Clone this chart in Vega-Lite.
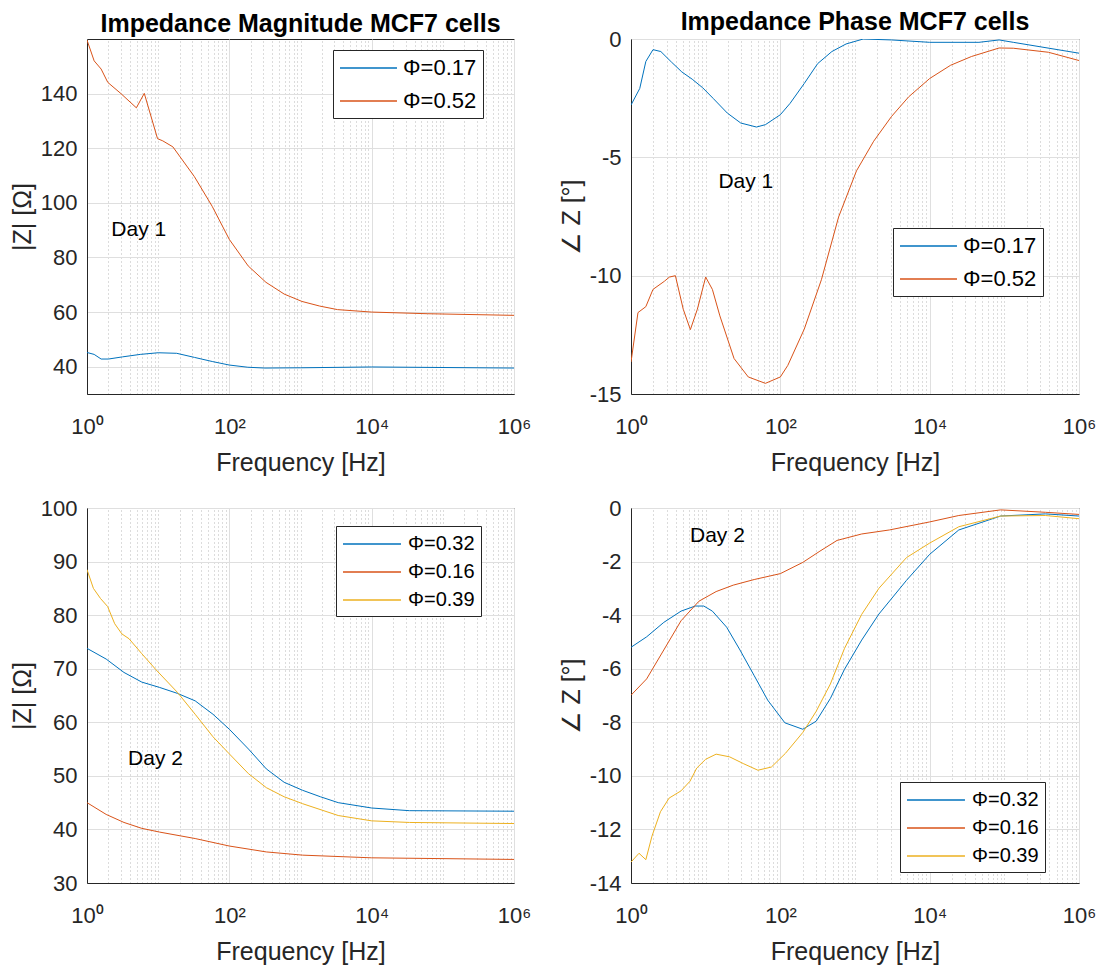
{
  "$schema": "https://vega.github.io/schema/vega-lite/v6.json",
  "background": "white",
  "padding": {"left": 9, "top": 9, "right": 5, "bottom": 5},
  "resolve": {"scale": {"color": "independent"}, "legend": {"color": "independent"}},
  "config": {
    "font": "Liberation Sans",
    "view": {"stroke": "#262626", "strokeWidth": 1},
    "axis": {"domainColor": "#262626", "labelColor": "#262626", "titleColor": "#262626", "labelFont": "Liberation Sans", "titleFont": "Liberation Sans", "titleFontWeight": "normal", "labelFontSize": 22, "titleFontSize": 25, "ticks": false, "gridColor": "#dfdfdf", "labelOverlap": false, "labelFlush": false},
    "legend": {"labelFont": "Liberation Sans", "labelColor": "#000000", "strokeColor": "#262626", "fillColor": "white", "symbolStrokeWidth": 1.5, "symbolSize": 484, "padding": 6},
    "title": {"font": "Liberation Sans", "fontSize": 25, "fontWeight": "bold", "color": "#000000", "offset": 2, "frame": "group"}
  },
  "datasets": {
    "m1": [
      {"s":"Φ=0.17","f":1,"v":45.2},{"s":"Φ=0.17","f":1.26,"v":44.5},{"s":"Φ=0.17","f":1.58,"v":42.8},{"s":"Φ=0.17","f":2,"v":42.8},{"s":"Φ=0.17","f":3.16,"v":43.6},{"s":"Φ=0.17","f":5.6,"v":44.5},{"s":"Φ=0.17","f":10,"v":45.1},{"s":"Φ=0.17","f":18.2,"v":44.9},{"s":"Φ=0.17","f":32.4,"v":43.4},{"s":"Φ=0.17","f":57.5,"v":41.9},{"s":"Φ=0.17","f":100,"v":40.6},{"s":"Φ=0.17","f":182,"v":39.8},{"s":"Φ=0.17","f":316,"v":39.5},{"s":"Φ=0.17","f":1000,"v":39.6},{"s":"Φ=0.17","f":10000,"v":39.9},{"s":"Φ=0.17","f":1000000,"v":39.5},
      {"s":"Φ=0.52","f":1,"v":159.6},{"s":"Φ=0.52","f":1.26,"v":152},{"s":"Φ=0.52","f":1.58,"v":149},{"s":"Φ=0.52","f":1.96,"v":144.1},{"s":"Φ=0.52","f":3,"v":140},{"s":"Φ=0.52","f":4.94,"v":134.8},{"s":"Φ=0.52","f":6.38,"v":140.1},{"s":"Φ=0.52","f":9.8,"v":123.5},{"s":"Φ=0.52","f":11.6,"v":122.7},{"s":"Φ=0.52","f":16.1,"v":120.5},{"s":"Φ=0.52","f":32.3,"v":109.6},{"s":"Φ=0.52","f":57.5,"v":98.7},{"s":"Φ=0.52","f":100,"v":86.6},{"s":"Φ=0.52","f":184,"v":76.9},{"s":"Φ=0.52","f":327,"v":70.9},{"s":"Φ=0.52","f":589,"v":66.6},{"s":"Φ=0.52","f":1047,"v":63.9},{"s":"Φ=0.52","f":1862,"v":62.2},{"s":"Φ=0.52","f":3311,"v":60.9},{"s":"Φ=0.52","f":10000,"v":60.0},{"s":"Φ=0.52","f":60256,"v":59.4},{"s":"Φ=0.52","f":1000000,"v":58.8}
    ],
    "p1": [
      {"s":"Φ=0.17","f":1,"v":-2.79},{"s":"Φ=0.17","f":1.31,"v":-2.09},{"s":"Φ=0.17","f":1.58,"v":-0.95},{"s":"Φ=0.17","f":1.97,"v":-0.45},{"s":"Φ=0.17","f":2.51,"v":-0.53},{"s":"Φ=0.17","f":3.47,"v":-0.97},{"s":"Φ=0.17","f":4.79,"v":-1.39},{"s":"Φ=0.17","f":6.61,"v":-1.7},{"s":"Φ=0.17","f":9.12,"v":-2.06},{"s":"Φ=0.17","f":12.6,"v":-2.51},{"s":"Φ=0.17","f":19.5,"v":-3.13},{"s":"Φ=0.17","f":29.5,"v":-3.55},{"s":"Φ=0.17","f":47.9,"v":-3.72},{"s":"Φ=0.17","f":63.1,"v":-3.62},{"s":"Φ=0.17","f":100,"v":-3.2},{"s":"Φ=0.17","f":135,"v":-2.72},{"s":"Φ=0.17","f":209,"v":-1.88},{"s":"Φ=0.17","f":316,"v":-1.04},{"s":"Φ=0.17","f":490,"v":-0.53},{"s":"Φ=0.17","f":759,"v":-0.21},{"s":"Φ=0.17","f":1288,"v":0.0},{"s":"Φ=0.17","f":3090,"v":-0.04},{"s":"Φ=0.17","f":10000,"v":-0.14},{"s":"Φ=0.17","f":45700,"v":-0.14},{"s":"Φ=0.17","f":85100,"v":-0.04},{"s":"Φ=0.17","f":131800,"v":-0.14},{"s":"Φ=0.17","f":1000000,"v":-0.6},
      {"s":"Φ=0.52","f":1,"v":-13.65},{"s":"Φ=0.52","f":1.24,"v":-11.56},{"s":"Φ=0.52","f":1.58,"v":-11.31},{"s":"Φ=0.52","f":1.97,"v":-10.58},{"s":"Φ=0.52","f":2.79,"v":-10.24},{"s":"Φ=0.52","f":3.27,"v":-10.06},{"s":"Φ=0.52","f":3.93,"v":-10.0},{"s":"Φ=0.52","f":5.01,"v":-11.42},{"s":"Φ=0.52","f":6.24,"v":-12.28},{"s":"Φ=0.52","f":7.74,"v":-11.42},{"s":"Φ=0.52","f":10,"v":-10.06},{"s":"Φ=0.52","f":12.3,"v":-10.58},{"s":"Φ=0.52","f":15.5,"v":-11.7},{"s":"Φ=0.52","f":24,"v":-13.5},{"s":"Φ=0.52","f":37.2,"v":-14.28},{"s":"Φ=0.52","f":63.1,"v":-14.55},{"s":"Φ=0.52","f":100,"v":-14.28},{"s":"Φ=0.52","f":126,"v":-13.79},{"s":"Φ=0.52","f":209,"v":-12.26},{"s":"Φ=0.52","f":355,"v":-10.17},{"s":"Φ=0.52","f":603,"v":-7.52},{"s":"Φ=0.52","f":1047,"v":-5.57},{"s":"Φ=0.52","f":1778,"v":-4.32},{"s":"Φ=0.52","f":3090,"v":-3.27},{"s":"Φ=0.52","f":5248,"v":-2.44},{"s":"Φ=0.52","f":10000,"v":-1.67},{"s":"Φ=0.52","f":19050,"v":-1.11},{"s":"Φ=0.52","f":36310,"v":-0.74},{"s":"Φ=0.52","f":85100,"v":-0.38},{"s":"Φ=0.52","f":131800,"v":-0.39},{"s":"Φ=0.52","f":389000,"v":-0.56},{"s":"Φ=0.52","f":1000000,"v":-0.91}
    ],
    "m2": [
      {"s":"Φ=0.32","f":1,"v":73.8},{"s":"Φ=0.32","f":1.86,"v":71.8},{"s":"Φ=0.32","f":3.31,"v":69.3},{"s":"Φ=0.32","f":5.89,"v":67.5},{"s":"Φ=0.32","f":10.5,"v":66.5},{"s":"Φ=0.32","f":18.6,"v":65.4},{"s":"Φ=0.32","f":33.1,"v":64.0},{"s":"Φ=0.32","f":58.9,"v":61.5},{"s":"Φ=0.32","f":100,"v":58.7},{"s":"Φ=0.32","f":186,"v":55.0},{"s":"Φ=0.32","f":331,"v":51.3},{"s":"Φ=0.32","f":589,"v":48.8},{"s":"Φ=0.32","f":1072,"v":47.3},{"s":"Φ=0.32","f":1905,"v":46.1},{"s":"Φ=0.32","f":3388,"v":45.0},{"s":"Φ=0.32","f":10000,"v":44.0},{"s":"Φ=0.32","f":33900,"v":43.5},{"s":"Φ=0.32","f":1000000,"v":43.4},
      {"s":"Φ=0.16","f":1,"v":45.0},{"s":"Φ=0.16","f":1.86,"v":42.8},{"s":"Φ=0.16","f":3.31,"v":41.3},{"s":"Φ=0.16","f":5.89,"v":40.2},{"s":"Φ=0.16","f":10.5,"v":39.5},{"s":"Φ=0.16","f":33.1,"v":38.3},{"s":"Φ=0.16","f":100,"v":36.9},{"s":"Φ=0.16","f":331,"v":35.8},{"s":"Φ=0.16","f":1072,"v":35.2},{"s":"Φ=0.16","f":10000,"v":34.7},{"s":"Φ=0.16","f":1000000,"v":34.4},
      {"s":"Φ=0.39","f":1,"v":88.5},{"s":"Φ=0.39","f":1.23,"v":85.0},{"s":"Φ=0.39","f":1.55,"v":83.1},{"s":"Φ=0.39","f":1.95,"v":81.6},{"s":"Φ=0.39","f":2.45,"v":78.4},{"s":"Φ=0.39","f":3.09,"v":76.5},{"s":"Φ=0.39","f":3.89,"v":75.6},{"s":"Φ=0.39","f":5.89,"v":72.8},{"s":"Φ=0.39","f":9.33,"v":69.8},{"s":"Φ=0.39","f":18.6,"v":65.6},{"s":"Φ=0.39","f":33.1,"v":61.5},{"s":"Φ=0.39","f":58.9,"v":57.3},{"s":"Φ=0.39","f":100,"v":54.1},{"s":"Φ=0.39","f":186,"v":50.4},{"s":"Φ=0.39","f":331,"v":47.8},{"s":"Φ=0.39","f":589,"v":46.1},{"s":"Φ=0.39","f":1072,"v":44.8},{"s":"Φ=0.39","f":3388,"v":42.6},{"s":"Φ=0.39","f":10000,"v":41.6},{"s":"Φ=0.39","f":33900,"v":41.3},{"s":"Φ=0.39","f":1000000,"v":41.1}
    ],
    "p2": [
      {"s":"Φ=0.32","f":1,"v":-5.2},{"s":"Φ=0.32","f":1.62,"v":-4.81},{"s":"Φ=0.32","f":2.75,"v":-4.27},{"s":"Φ=0.32","f":4.68,"v":-3.85},{"s":"Φ=0.32","f":7.24,"v":-3.66},{"s":"Φ=0.32","f":9.44,"v":-3.66},{"s":"Φ=0.32","f":12.3,"v":-3.85},{"s":"Φ=0.32","f":19.1,"v":-4.45},{"s":"Φ=0.32","f":28.8,"v":-5.3},{"s":"Φ=0.32","f":44.7,"v":-6.26},{"s":"Φ=0.32","f":67.6,"v":-7.17},{"s":"Φ=0.32","f":115,"v":-8.02},{"s":"Φ=0.32","f":200,"v":-8.26},{"s":"Φ=0.32","f":302,"v":-7.96},{"s":"Φ=0.32","f":468,"v":-7.11},{"s":"Φ=0.32","f":724,"v":-6.02},{"s":"Φ=0.32","f":1230,"v":-4.93},{"s":"Φ=0.32","f":2089,"v":-3.96},{"s":"Φ=0.32","f":4898,"v":-2.7},{"s":"Φ=0.32","f":10000,"v":-1.73},{"s":"Φ=0.32","f":24550,"v":-0.82},{"s":"Φ=0.32","f":89100,"v":-0.3},{"s":"Φ=0.32","f":354800,"v":-0.22},{"s":"Φ=0.32","f":1000000,"v":-0.3},
      {"s":"Φ=0.16","f":1,"v":-6.99},{"s":"Φ=0.16","f":1.62,"v":-6.38},{"s":"Φ=0.16","f":2.75,"v":-5.3},{"s":"Φ=0.16","f":4.68,"v":-4.21},{"s":"Φ=0.16","f":8.13,"v":-3.48},{"s":"Φ=0.16","f":13.8,"v":-3.12},{"s":"Φ=0.16","f":23.4,"v":-2.88},{"s":"Φ=0.16","f":44.7,"v":-2.67},{"s":"Φ=0.16","f":100,"v":-2.45},{"s":"Φ=0.16","f":200,"v":-2.03},{"s":"Φ=0.16","f":339,"v":-1.61},{"s":"Φ=0.16","f":575,"v":-1.21},{"s":"Φ=0.16","f":1230,"v":-0.97},{"s":"Φ=0.16","f":2884,"v":-0.82},{"s":"Φ=0.16","f":10000,"v":-0.52},{"s":"Φ=0.16","f":24550,"v":-0.28},{"s":"Φ=0.16","f":89100,"v":-0.07},{"s":"Φ=0.16","f":354800,"v":-0.16},{"s":"Φ=0.16","f":1000000,"v":-0.24},
      {"s":"Φ=0.39","f":1,"v":-13.22},{"s":"Φ=0.39","f":1.28,"v":-12.89},{"s":"Φ=0.39","f":1.58,"v":-13.13},{"s":"Φ=0.39","f":1.91,"v":-12.25},{"s":"Φ=0.39","f":2.48,"v":-11.34},{"s":"Φ=0.39","f":3.24,"v":-10.83},{"s":"Φ=0.39","f":4.68,"v":-10.56},{"s":"Φ=0.39","f":6.17,"v":-10.2},{"s":"Φ=0.39","f":7.59,"v":-9.71},{"s":"Φ=0.39","f":10,"v":-9.38},{"s":"Φ=0.39","f":13.8,"v":-9.19},{"s":"Φ=0.39","f":20.9,"v":-9.29},{"s":"Φ=0.39","f":32.4,"v":-9.55},{"s":"Φ=0.39","f":50.1,"v":-9.79},{"s":"Φ=0.39","f":75.9,"v":-9.67},{"s":"Φ=0.39","f":117,"v":-9.16},{"s":"Φ=0.39","f":200,"v":-8.38},{"s":"Φ=0.39","f":302,"v":-7.59},{"s":"Φ=0.39","f":468,"v":-6.57},{"s":"Φ=0.39","f":724,"v":-5.24},{"s":"Φ=0.39","f":1230,"v":-3.97},{"s":"Φ=0.39","f":2089,"v":-3.0},{"s":"Φ=0.39","f":4898,"v":-1.85},{"s":"Φ=0.39","f":10000,"v":-1.31},{"s":"Φ=0.39","f":24550,"v":-0.7},{"s":"Φ=0.39","f":89100,"v":-0.3},{"s":"Φ=0.39","f":354800,"v":-0.28},{"s":"Φ=0.39","f":1000000,"v":-0.4}
    ]
  },
  "concat": [
    {
      "width": 427, "height": 355,
      "title": {"text": "Impedance Magnitude MCF7 cells"},
      "resolve": {"axis": {"x": "independent"}},
      "layer": [
        {
          "data": {"name": "m1"},
          "mark": {"type": "line", "strokeWidth": 1, "clip": true},
          "encoding": {
            "x": {"field": "f", "type": "quantitative", "scale": {"type": "log", "domain": [1, 1000000], "nice": false},
                  "axis": {"values": [1, 100, 10000, 1000000], "labelExpr": "'10' + (datum.value < 10 ? '⁰' : datum.value < 1000 ? '²' : datum.value < 100000 ? '⁴' : '⁶')", "title": "Frequency [Hz]", "grid": true, "labelPadding": 22, "titlePadding": 13}},
            "y": {"field": "v", "type": "quantitative", "scale": {"domain": [30, 160], "nice": false, "zero": false},
                  "axis": {"values": [40, 60, 80, 100, 120, 140], "labelExpr": "datum.value + ''", "title": "|Z| [Ω]", "grid": true, "labelPadding": 10, "titlePadding": 5}},
            "color": {"field": "s", "type": "nominal", "scale": {"domain": ["Φ=0.17", "Φ=0.52"], "range": ["#0072BD", "#D95319"]},
                      "legend": {"orient": "none", "legendX": 246, "legendY": 11, "title": null, "symbolType": "M-1,0H4.18", "labelOffset": 40, "labelFontSize": 22, "rowPadding": 10}}
          }
        },
        {
          "data": {"values": [{"label": "Day 1"}]},
          "mark": {"type": "text", "align": "left", "baseline": "middle", "fontSize": 21, "color": "#000000"},
          "encoding": {
            "text": {"field": "label"},
            "x": {"datum": 2.2, "type": "quantitative",
                  "axis": {"orient": "top", "values": [2,3,4,5,6,7,8,9,10,20,30,40,50,60,70,80,90,200,300,400,500,600,700,800,900,1000,2000,3000,4000,5000,6000,7000,8000,9000,20000,30000,40000,50000,60000,70000,80000,90000,100000,200000,300000,400000,500000,600000,700000,800000,900000], "grid": true, "gridDash": [1, 3], "gridColor": "#b8b8b8", "labels": false, "ticks": false, "domain": false, "title": null}},
            "y": {"datum": 90, "type": "quantitative"}
          }
        }
      ]
    },
    {
      "width": 448, "height": 355,
      "title": {"text": "Impedance Phase MCF7 cells", "offset": -7},
      "resolve": {"axis": {"x": "independent"}},
      "layer": [
        {
          "data": {"name": "p1"},
          "mark": {"type": "line", "strokeWidth": 1, "clip": true},
          "encoding": {
            "x": {"field": "f", "type": "quantitative", "scale": {"type": "log", "domain": [1, 1000000], "nice": false},
                  "axis": {"values": [1, 100, 10000, 1000000], "labelExpr": "'10' + (datum.value < 10 ? '⁰' : datum.value < 1000 ? '²' : datum.value < 100000 ? '⁴' : '⁶')", "title": "Frequency [Hz]", "grid": true, "labelPadding": 22, "titlePadding": 13}},
            "y": {"field": "v", "type": "quantitative", "scale": {"domain": [-15, 0], "nice": false, "zero": false},
                  "axis": {"values": [-15, -10, -5, 0], "labelExpr": "datum.value + ''", "title": "∠ Z [°]", "grid": true, "labelPadding": 10, "titlePadding": 5}},
            "color": {"field": "s", "type": "nominal", "scale": {"domain": ["Φ=0.17", "Φ=0.52"], "range": ["#0072BD", "#D95319"]},
                      "legend": {"orient": "none", "legendX": 262, "legendY": 189, "title": null, "symbolType": "M-1,0H4.18", "labelOffset": 40, "labelFontSize": 22, "rowPadding": 10}}
          }
        },
        {
          "data": {"values": [{"label": "Day 1"}]},
          "mark": {"type": "text", "align": "left", "baseline": "middle", "fontSize": 21, "color": "#000000"},
          "encoding": {
            "text": {"field": "label"},
            "x": {"datum": 14.8, "type": "quantitative",
                  "axis": {"orient": "top", "values": [2,3,4,5,6,7,8,9,10,20,30,40,50,60,70,80,90,200,300,400,500,600,700,800,900,1000,2000,3000,4000,5000,6000,7000,8000,9000,20000,30000,40000,50000,60000,70000,80000,90000,100000,200000,300000,400000,500000,600000,700000,800000,900000], "grid": true, "gridDash": [1, 3], "gridColor": "#b8b8b8", "labels": false, "ticks": false, "domain": false, "title": null}},
            "y": {"datum": -6.06, "type": "quantitative"}
          }
        }
      ]
    },
    {
      "width": 427, "height": 375,
      "resolve": {"axis": {"x": "independent"}},
      "layer": [
        {
          "data": {"name": "m2"},
          "mark": {"type": "line", "strokeWidth": 1, "clip": true},
          "encoding": {
            "x": {"field": "f", "type": "quantitative", "scale": {"type": "log", "domain": [1, 1000000], "nice": false},
                  "axis": {"values": [1, 100, 10000, 1000000], "labelExpr": "'10' + (datum.value < 10 ? '⁰' : datum.value < 1000 ? '²' : datum.value < 100000 ? '⁴' : '⁶')", "title": "Frequency [Hz]", "grid": true, "labelPadding": 22, "titlePadding": 13}},
            "y": {"field": "v", "type": "quantitative", "scale": {"domain": [30, 100], "nice": false, "zero": false},
                  "axis": {"values": [30, 40, 50, 60, 70, 80, 90, 100], "labelExpr": "datum.value + ''", "title": "|Z| [Ω]", "grid": true, "labelPadding": 10, "titlePadding": 5}},
            "color": {"field": "s", "type": "nominal", "scale": {"domain": ["Φ=0.32", "Φ=0.16", "Φ=0.39"], "range": ["#0072BD", "#D95319", "#EDB120"]},
                      "legend": {"orient": "none", "legendX": 249, "legendY": 18, "title": null, "symbolType": "M-1,0H4.27", "labelOffset": 42, "labelFontSize": 20, "rowPadding": 6}}
          }
        },
        {
          "data": {"values": [{"label": "Day 2"}]},
          "mark": {"type": "text", "align": "left", "baseline": "middle", "fontSize": 21, "color": "#000000"},
          "encoding": {
            "text": {"field": "label"},
            "x": {"datum": 3.78, "type": "quantitative",
                  "axis": {"orient": "top", "values": [2,3,4,5,6,7,8,9,10,20,30,40,50,60,70,80,90,200,300,400,500,600,700,800,900,1000,2000,3000,4000,5000,6000,7000,8000,9000,20000,30000,40000,50000,60000,70000,80000,90000,100000,200000,300000,400000,500000,600000,700000,800000,900000], "grid": true, "gridDash": [1, 3], "gridColor": "#b8b8b8", "labels": false, "ticks": false, "domain": false, "title": null}},
            "y": {"datum": 53.1, "type": "quantitative"}
          }
        }
      ]
    },
    {
      "width": 448, "height": 375,
      "resolve": {"axis": {"x": "independent"}},
      "layer": [
        {
          "data": {"name": "p2"},
          "mark": {"type": "line", "strokeWidth": 1, "clip": true},
          "encoding": {
            "x": {"field": "f", "type": "quantitative", "scale": {"type": "log", "domain": [1, 1000000], "nice": false},
                  "axis": {"values": [1, 100, 10000, 1000000], "labelExpr": "'10' + (datum.value < 10 ? '⁰' : datum.value < 1000 ? '²' : datum.value < 100000 ? '⁴' : '⁶')", "title": "Frequency [Hz]", "grid": true, "labelPadding": 22, "titlePadding": 13}},
            "y": {"field": "v", "type": "quantitative", "scale": {"domain": [-14, 0], "nice": false, "zero": false},
                  "axis": {"values": [-14, -12, -10, -8, -6, -4, -2, 0], "labelExpr": "datum.value + ''", "title": "∠ Z [°]", "grid": true, "labelPadding": 10, "titlePadding": 5}},
            "color": {"field": "s", "type": "nominal", "scale": {"domain": ["Φ=0.32", "Φ=0.16", "Φ=0.39"], "range": ["#0072BD", "#D95319", "#EDB120"]},
                      "legend": {"orient": "none", "legendX": 269, "legendY": 274, "title": null, "symbolType": "M-1,0H4.27", "labelOffset": 42, "labelFontSize": 20, "rowPadding": 6}}
          }
        },
        {
          "data": {"values": [{"label": "Day 2"}]},
          "mark": {"type": "text", "align": "left", "baseline": "middle", "fontSize": 21, "color": "#000000"},
          "encoding": {
            "text": {"field": "label"},
            "x": {"datum": 6.17, "type": "quantitative",
                  "axis": {"orient": "top", "values": [2,3,4,5,6,7,8,9,10,20,30,40,50,60,70,80,90,200,300,400,500,600,700,800,900,1000,2000,3000,4000,5000,6000,7000,8000,9000,20000,30000,40000,50000,60000,70000,80000,90000,100000,200000,300000,400000,500000,600000,700000,800000,900000], "grid": true, "gridDash": [1, 3], "gridColor": "#b8b8b8", "labels": false, "ticks": false, "domain": false, "title": null}},
            "y": {"datum": -1.06, "type": "quantitative"}
          }
        }
      ]
    }
  ],
  "columns": 2,
  "spacing": {"row": 114, "column": 117},
  "bounds": "flush"
}
